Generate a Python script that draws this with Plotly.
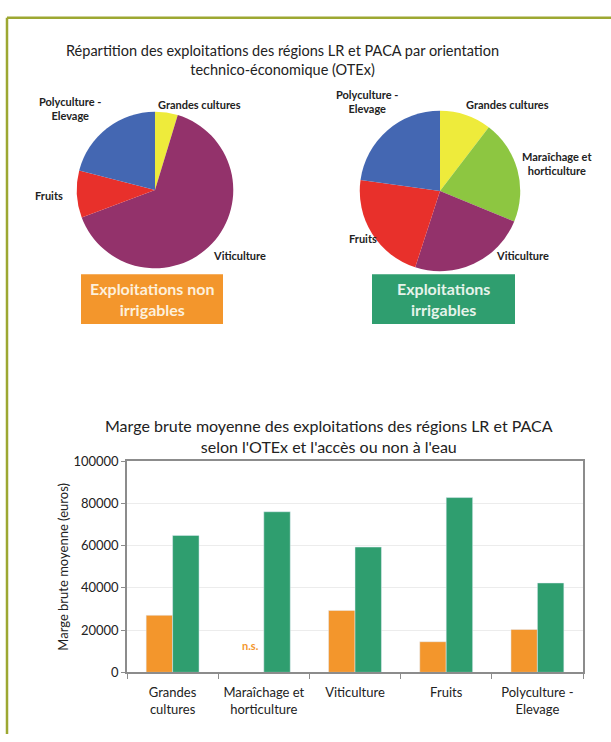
import plotly.graph_objects as go

W, H = 611, 742

# pie data (share of farms, %)
left_labels = ["Grandes cultures", "Viticulture", "Fruits", "Polyculture - Elevage"]
left_values = [4.7, 64.6, 9.7, 21.0]
right_labels = ["Grandes cultures", "Maraîchage et horticulture", "Viticulture", "Fruits", "Polyculture - Elevage"]
right_values = [10.4, 20.8, 23.8, 22.2, 22.8]

# bar data (euros)
categories = ["Grandes<br>cultures", "Maraîchage et<br>horticulture", "Viticulture", "Fruits", "Polyculture -<br>Elevage"]
non_irrigables = [27000, None, 29300, 14500, 20300]
irrigables = [64800, 76000, 59300, 82700, 42300]

slice_colors = {
    "Grandes cultures": "#eeeb3b",
    "Maraîchage et horticulture": "#8dc641",
    "Viticulture": "#93326b",
    "Fruits": "#e8302b",
    "Polyculture - Elevage": "#4467b2",
}
ORANGE = "#f3962c"
GREEN = "#2f9e6f"
TXT = "#222222"
FONT = "Lato"


def px(x):
    return x / W


def py(y):
    return 1 - y / H


fig = go.Figure()

fig.add_trace(go.Pie(labels=left_labels, values=left_values, sort=False, direction="clockwise",
                     rotation=0, textinfo="none", hoverinfo="label+percent",
                     marker=dict(colors=[slice_colors[l] for l in left_labels], line=dict(width=0)),
                     domain=dict(x=[px(75), px(235)], y=[py(266), py(106)]), showlegend=False))

fig.add_trace(go.Pie(labels=right_labels, values=right_values, sort=False, direction="clockwise",
                     rotation=0, textinfo="none", hoverinfo="label+percent",
                     marker=dict(colors=[slice_colors[l] for l in right_labels], line=dict(width=0)),
                     domain=dict(x=[px(358), px(522)], y=[py(269), py(105)]), showlegend=False))

fig.add_trace(go.Bar(x=categories, y=non_irrigables, name="Exploitations non irrigables",
                     marker_color=ORANGE, showlegend=False))
fig.add_trace(go.Bar(x=categories, y=irrigables, name="Exploitations irrigables",
                     marker_color=GREEN, showlegend=False))

fig.update_layout(
    width=W, height=H,
    margin=dict(l=0, r=0, t=0, b=0),
    paper_bgcolor="white", plot_bgcolor="white",
    font=dict(family=FONT, color=TXT),
    barmode="group", bargap=0.42, bargroupgap=0,
    xaxis=dict(domain=[px(127), px(583)], showline=True, linecolor="#8c8c8c", linewidth=1.5,
               mirror=True, ticks="outside", tickson="boundaries", ticklen=5, tickcolor="#8c8c8c",
               tickfont=dict(size=13, color=TXT), ticklabelstandoff=7),
    yaxis=dict(domain=[py(679), py(463)], range=[0, 100000], dtick=20000, tickformat="d",
               showline=True, linecolor="#8c8c8c", linewidth=1.5, mirror=True, showgrid=True,
               gridcolor="#ececec", ticks="outside", ticklen=4, tickcolor="#8c8c8c",
               tickfont=dict(size=13, color=TXT), zeroline=False),
)

annotations = []


def note(text, x, y, size=11, color=TXT, **kw):
    annotations.append(dict(text=text, x=px(x), y=py(y), xref="paper", yref="paper",
                            showarrow=False, xanchor="center", yanchor="middle",
                            font=dict(family=FONT, size=size, color=color), **kw))


# titles
note("Répartition des exploitations des régions LR et PACA par orientation<br>technico-économique (OTEx)",
     282, 53.5, size=14.5)
note("Marge brute moyenne des exploitations des régions LR et PACA<br>selon l'OTEx et l'accès ou non à l'eau",
     329, 437, size=16)

# pie labels
note("<b>Polyculture -<br>Elevage</b>", 70, 103)
note("<b>Grandes cultures</b>", 199, 99)
note("<b>Fruits</b>", 49, 192)
note("<b>Viticulture</b>", 240, 253)
note("<b>Polyculture -<br>Elevage</b>", 367, 95.5)
note("<b>Grandes cultures</b>", 507, 99)
note("<b>Maraîchage et<br>horticulture</b>", 557, 159)
note("<b>Fruits</b>", 363, 236)
note("<b>Viticulture</b>", 522, 253)

# boxes under the pies
shapes = [
    dict(type="rect", xref="paper", yref="paper", x0=px(81), x1=px(223), y0=py(323), y1=py(272),
         fillcolor=ORANGE, line=dict(width=0)),
    dict(type="rect", xref="paper", yref="paper", x0=px(372), x1=px(515), y0=py(323), y1=py(272),
         fillcolor=GREEN, line=dict(width=0)),
    # olive frame
    dict(type="line", xref="paper", yref="paper", x0=px(7), x1=px(7), y0=py(10), y1=0,
         line=dict(color="#9da832", width=2.5)),
    dict(type="line", xref="paper", yref="paper", x0=px(7), x1=1, y0=py(10), y1=py(10),
         line=dict(color="#9da832", width=2.5)),
]
note("<b>Exploitations non<br>irrigables</b>", 152, 297, size=16, color="#fdf0dc")
note("<b>Exploitations<br>irrigables</b>", 443.5, 297, size=16, color="#e6f3ea")

# bar chart extras
note("Marge brute moyenne (euros)", 63, 571, size=13, textangle=-90)
annotations.append(dict(text="<b>n.s.</b>", x=categories[1], y=12500, xref="x", yref="y",
                        xshift=-13, showarrow=False, font=dict(family=FONT, size=11, color=ORANGE)))

fig.update_layout(annotations=annotations, shapes=shapes)

fig.write_html("out.html", config={"displayModeBar": False},
               post_script="document.body.style.margin='0';")
